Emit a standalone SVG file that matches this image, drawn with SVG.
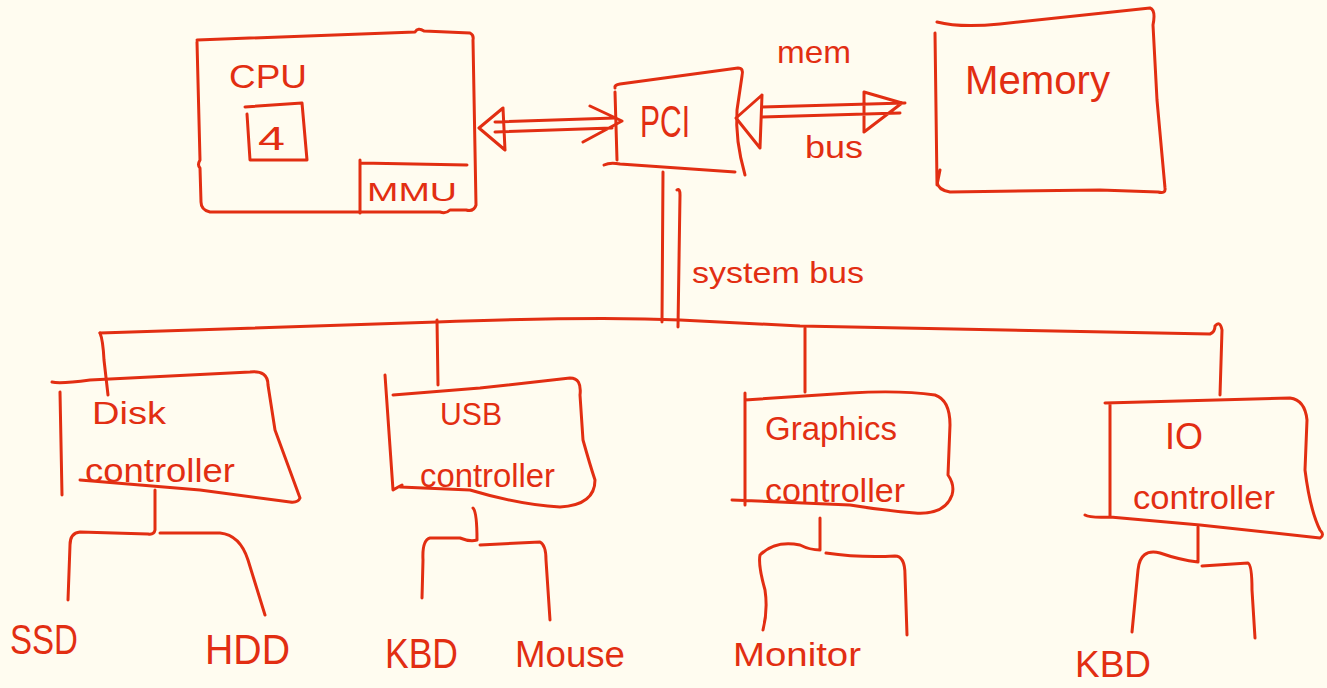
<svg xmlns="http://www.w3.org/2000/svg" width="1327" height="688" viewBox="0 0 1327 688">
<style>
.s{fill:none;stroke:#E22E12;stroke-width:3;stroke-linecap:round;stroke-linejoin:round}
.t{fill:#E22E12;font-family:"Liberation Sans","DejaVu Sans",sans-serif}
</style>
<rect width="1327" height="688" fill="#FFFCF0"/>
<g id="connectors">
<path class="s" d="M495,122 L615,118 M495,132 L612,128 M503,108 L479,128 L505,150 M503,108 L505,150 M590,106 L622,121 L583,142"/>
<path class="s" d="M762,107 L905,103 M762,117 L900,113 M762,95 L736,118 L760,148 M762,95 L760,148 M864,92 L902,103 L864,132 M864,92 L864,132"/>
<path class="s" d="M663,172 L662,322 M677,190 Q680,188 680,195 L678,327"/>
<path class="s" d="M100,333 L437,322 Q600,316 680,320 L800,326 L1210,334 Q1215,332 1215,326 Q1220,320 1222,330 L1220,395"/>
<path class="s" d="M100,333 Q103,340 104,360 L108,395 M437,320 L438,385 M805,328 L805,392"/>
<path class="s" d="M155,490 L155,530 Q154,535 148,534 L80,532 Q70,533 70,545 L68,600 M160,533 L220,533 Q240,535 248,560 L265,615"/>
<path class="s" d="M473,508 Q477,512 477,540 Q470,542 460,538 L430,538 Q422,540 423,560 L422,598 M480,545 L540,542 Q546,545 546,560 L550,620"/>
<path class="s" d="M820,518 L820,550 Q810,550 800,545 Q775,540 760,555 Q758,565 765,590 Q768,610 763,630 M826,553 Q860,558 895,556 Q905,556 905,575 L907,635"/>
<path class="s" d="M1198,527 L1198,562 Q1180,560 1160,553 Q1140,548 1138,570 L1132,632 M1202,566 L1248,563 Q1252,565 1252,590 L1255,638"/>
<text class="t" x="777" y="63" font-size="32" textLength="74" lengthAdjust="spacingAndGlyphs">mem</text>
<text class="t" x="805" y="158" font-size="32" textLength="58" lengthAdjust="spacingAndGlyphs">bus</text>
<text class="t" x="692" y="283" font-size="30" textLength="172" lengthAdjust="spacingAndGlyphs">system bus</text>
</g>
<g id="cpu">
<path class="s" d="M197,40 L415,32 Q418,27 424,31 L470,33 Q474,35 473,40 L476,205 Q474,212 466,210 L450,210 Q446,214 440,212 L210,212 Q201,210 201,202 L200,168 Q197,165 200,160 L197,42"/>
<path class="s" d="M245,107 L302,103 L307,160 L250,160 L247,114"/>
<path class="s" d="M360,160 L360,213 M360,163 L467,165"/>
<text class="t" x="229" y="88" font-size="34" textLength="78" lengthAdjust="spacingAndGlyphs">CPU</text>
<text class="t" x="258" y="150" font-size="34" textLength="27" lengthAdjust="spacingAndGlyphs">4</text>
<text class="t" x="367" y="201" font-size="26" textLength="90" lengthAdjust="spacingAndGlyphs">MMU</text>
</g>
<g id="pci">
<path class="s" d="M615,88 Q614,85 620,84 L738,68 Q744,68 742,76 L737,110 Q735,140 745,175 M604,165 Q610,162 620,164 L735,172 M615,92 L617,160"/>
<text class="t" x="640" y="137" font-size="44" textLength="50" lengthAdjust="spacingAndGlyphs">PCI</text>
</g>
<g id="memory">
<path class="s" d="M937,22 Q960,28 1000,24 L1150,8 Q1156,10 1153,25 L1157,100 L1165,188 Q1166,194 1158,192 L1100,190 L950,192 Q938,190 937,182 M935,33 L937,185 L940,170"/>
<text class="t" x="965" y="94" font-size="40" textLength="145" lengthAdjust="spacingAndGlyphs">Memory</text>
</g>
<g id="disk">
<path class="s" d="M52,382 Q60,384 90,380 L250,372 Q268,370 268,385 L275,430 L300,498 Q298,503 290,502 L200,490 L80,480 M60,392 L62,495"/>
<text class="t" x="92" y="424" font-size="32" textLength="74" lengthAdjust="spacingAndGlyphs">Disk</text>
<text class="t" x="85" y="482" font-size="34" textLength="150" lengthAdjust="spacingAndGlyphs">controller</text>
<text class="t" x="10" y="654" font-size="42" textLength="68" lengthAdjust="spacingAndGlyphs">SSD</text>
<text class="t" x="205" y="664" font-size="42" textLength="85" lengthAdjust="spacingAndGlyphs">HDD</text>
</g>
<g id="usb">
<path class="s" d="M385,375 L393,490 Q398,487 402,485 M393,395 L480,388 L570,378 Q582,378 580,395 L583,440 Q590,465 595,480 Q595,505 560,507 Q520,505 470,490 L400,487"/>
<text class="t" x="440" y="425" font-size="32" textLength="62" lengthAdjust="spacingAndGlyphs">USB</text>
<text class="t" x="420" y="487" font-size="34" textLength="135" lengthAdjust="spacingAndGlyphs">controller</text>
<text class="t" x="385" y="668" font-size="42" textLength="73" lengthAdjust="spacingAndGlyphs">KBD</text>
<text class="t" x="515" y="667" font-size="36" textLength="110" lengthAdjust="spacingAndGlyphs">Mouse</text>
</g>
<g id="graphics">
<path class="s" d="M745,393 L745,505 M745,400 L850,393 Q900,390 935,395 Q950,400 950,425 L948,475 Q955,485 952,495 Q945,515 915,513 Q880,510 850,505 L732,500"/>
<text class="t" x="765" y="440" font-size="34" textLength="132" lengthAdjust="spacingAndGlyphs">Graphics</text>
<text class="t" x="765" y="502" font-size="34" textLength="140" lengthAdjust="spacingAndGlyphs">controller</text>
<text class="t" x="733" y="666" font-size="34" textLength="128" lengthAdjust="spacingAndGlyphs">Monitor</text>
</g>
<g id="io">
<path class="s" d="M1110,403 L1110,517 M1085,515 Q1090,518 1110,517 L1200,525 L1320,538 Q1325,535 1320,530 Q1310,510 1305,470 L1307,420 Q1305,400 1290,398 L1105,403"/>
<text class="t" x="1165" y="449" font-size="36" textLength="38" lengthAdjust="spacingAndGlyphs">IO</text>
<text class="t" x="1133" y="509" font-size="34" textLength="142" lengthAdjust="spacingAndGlyphs">controller</text>
<text class="t" x="1075" y="677" font-size="36" textLength="76" lengthAdjust="spacingAndGlyphs">KBD</text>
</g>
</svg>
